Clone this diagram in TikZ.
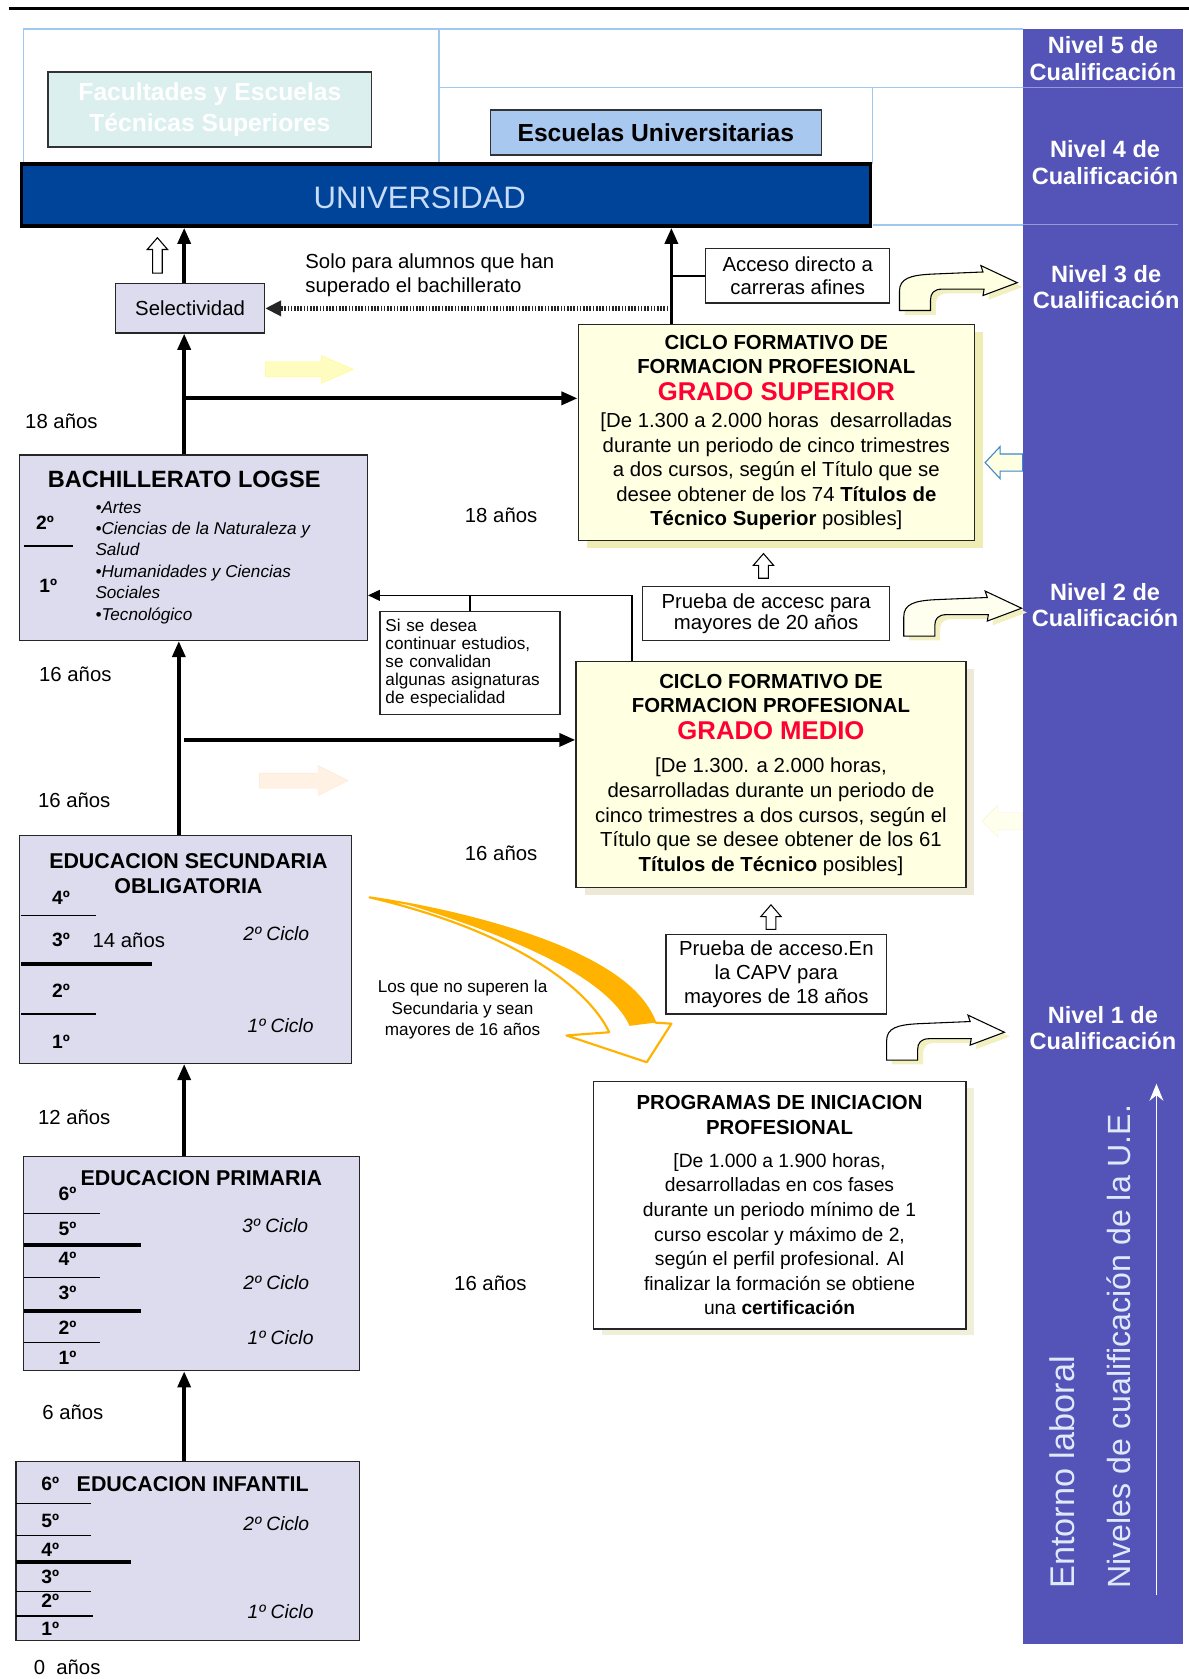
\documentclass[tikz,border=0pt]{standalone}
\usepackage{fontspec}
\setmainfont{Liberation Sans}
\usetikzlibrary{arrows.meta,calc,shadows}

\definecolor{lavfill}{HTML}{DCDCEE}
\definecolor{creamfill}{HTML}{FFFFE1}
\definecolor{gsshadow}{HTML}{EEEEB4}
\definecolor{gmshadow}{HTML}{EEE8D6}
\definecolor{pcshadow}{HTML}{EFEFDA}
\definecolor{univblue}{HTML}{00449A}
\definecolor{univtext}{HTML}{C8DCF8}
\definecolor{facfill}{HTML}{DCEFEF}
\definecolor{escfill}{HTML}{A8C8F0}
\definecolor{framebl}{HTML}{A0C8F0}
\definecolor{nivelpurple}{HTML}{5353B8}
\definecolor{gradored}{HTML}{FF0033}
\definecolor{swoosh}{HTML}{FFB300}
\definecolor{bentshade}{HTML}{F2F0C0}

\newcommand{\setfs}[2]{\fontsize{#1}{#2}\selectfont}
\newcommand{\bentpath}{(0,0) -- (0,-18) .. controls (0,-30) and (10,-33) .. (30,-34) -- (78,-36) -- (76,-42) -- (110,-26) -- (78,-14) -- (79,-20) -- (40,-20) .. controls (32,-20) and (29,-16) .. (29,-10) -- (29,0) -- cycle}
\newcommand{\bentarrow}[3]{%
  \begin{scope}[shift={(#1,#2)}]
    \fill[bentshade, shift={(5,4)}] \bentpath;
    \filldraw[fill=#3, draw=black, line width=1pt] \bentpath;
  \end{scope}}
\newcommand{\hollowup}[3]{%
  \filldraw[fill=white, draw=black, line width=1pt] (#1-4.5,#3) -- (#1-4.5,#2+11) -- (#1-9.5,#2+11) -- (#1,#2) -- (#1+9.5,#2+11) -- (#1+4.5,#2+11) -- (#1+4.5,#3) -- cycle;}

\begin{document}
\begin{tikzpicture}[x=1pt,y=-1pt,
    box/.style={draw=black!85, line width=1.3pt, inner sep=0pt},
    lavbox/.style={box, fill=lavfill},
    fpbox/.style={box, fill=creamfill, align=center, font=\setfs{19}{23},
        drop shadow={shadow xshift=8pt, shadow yshift=-7pt, fill=#1, opacity=1}},
    fpbox/.default=gsshadow,
    notebox/.style={draw=black!85, line width=1.2pt, fill=white, align=center, font=\setfs{19}{21}, inner sep=3pt},
    age/.style={font=\setfs{19}{22}},
    yr/.style={font=\bfseries\setfs{18}{20}},
    ciclo/.style={font=\itshape\setfs{18}{20}},
    ttl/.style={font=\bfseries\setfs{20}{24}, align=center},
    nivel/.style={text=white, font=\bfseries\setfs{22}{25}, align=center},
    mainarrow/.style={line width=3.5pt, -{Triangle[length=15pt,width=12pt]}},
    thinarrow/.style={line width=1.5pt, -{Triangle[length=11pt,width=10pt]}},
    dotarrow/.style={line width=4pt, black!85, dash pattern=on 1.5pt off 1.5pt, -{Triangle[length=15pt,width=14pt]}},
    frameline/.style={draw=framebl, line width=1.2pt},
    yrrule/.style={line width=1.3pt},
    cyclerule/.style={line width=3.5pt}
  ]
\useasboundingbox (0,0) rectangle (1110,1568);
\draw[line width=2pt] (8,8) -- (1110,8);

\fill[nivelpurple] (955,27) rectangle (1105,1535);
\draw[nivelpurple!60!white, line width=0.8pt] (955,82) -- (1105,82);
\draw[nivelpurple!60!white, line width=0.8pt] (955,210) -- (1100,210);
\node[nivel] (niv5) at (1030,55) {Nivel 5 de\\Cualificación};
\node[nivel] (niv4) at (1032,152) {Nivel 4 de\\Cualificación};
\node[nivel] (niv3) at (1033,268) {Nivel 3 de\\Cualificación};
\node[nivel] (niv2) at (1032,565) {Nivel 2 de\\Cualificación};
\node[nivel] (niv1) at (1030,960) {Nivel 1 de\\Cualificación};
\node[rotate=90, anchor=west, text=univtext!60!white, font=\setfs{32}{34}] (entorno) at (992,1487) {Entorno laboral};
\node[rotate=90, anchor=west, text=univtext!60!white, font=\setfs{30}{32}] (niveles) at (1045,1487) {Niveles de cualificación de la U.E.};
\draw[white, line width=1.5pt, -{Stealth[length=16pt,width=13pt]}] (1080,1490) -- (1080,1012);

\draw[frameline] (22,155) -- (22,27) -- (955,27);
\draw[frameline] (410,27) -- (410,155);
\draw[frameline] (410,82) -- (955,82);
\draw[frameline] (815,82) -- (815,153);
\draw[frameline] (815,210) -- (955,210);

\node[draw=black!80, line width=1.5pt, fill=facfill, text=white, font=\bfseries\setfs{23}{29}, align=center, minimum width=302pt, minimum height=70pt] (fac) at (196,102) {Facultades y Escuelas\\Técnicas Superiores};
\node[draw=black!80, line width=1.5pt, fill=escfill, font=\bfseries\setfs{23}{26}, minimum width=309pt, minimum height=42pt] (esc) at (612.5,124) {Escuelas Universitarias};
\node[draw=black, line width=3.5pt, fill=univblue, minimum width=793pt, minimum height=58pt] (univ) at (416.5,182) {};
\node[text=univtext, font=\setfs{29}{32}] (univlbl) at (392,185) {UNIVERSIDAD};

\coordinate (spine) at (172,0);
\coordinate (spineb) at (167,0);
\coordinate (rspine) at (627,0);
\coordinate (gsrow) at (0,372);
\coordinate (gmrow) at (0,691);
\coordinate (convx) at (590,556);

\node[lavbox, font=\setfs{19}{22}, minimum width=139pt, minimum height=46pt] (sel) at (177.5,288) {Selectividad};
\hollowup{147}{222}{255}
\draw[mainarrow] (sel.north -| spine) -- (univ.south -| spine);
\node[anchor=west, align=left, font=\setfs{19}{23}, inner sep=0pt] (solo) at (285,257) {Solo para alumnos que han\\superado el bachillerato};
\draw[dotarrow] (rspine |- sel.east) -- (sel.east);

\node[notebox, minimum width=172pt, minimum height=51pt] (acc) at (745,257.5) {Acceso directo a\\carreras afines};
\bentarrow{840}{290}{creamfill}

\node[fpbox, minimum width=370pt, minimum height=202pt] (cfgs) at (725,404) {{\bfseries CICLO FORMATIVO DE}\\{\bfseries FORMACION PROFESIONAL}\\[2pt]{\color{gradored}\bfseries\setfs{24}{27}GRADO SUPERIOR}\\[2pt]{[}De 1.300 a 2.000 horas\ \ desarrolladas\\durante un periodo de cinco trimestres\\a dos cursos, según el Título que se\\desee obtener de los 74 \textbf{Títulos de}\\\textbf{Técnico Superior} posibles]};
\draw[mainarrow] (cfgs.north -| rspine) -- (univ.south -| rspine);
\draw[line width=1.5pt] (rspine |- acc.west) -- (acc.west);

\filldraw[fill=yellow!25, draw=yellow!45] (248,338) -- (300,338) -- (300,332) -- (330,345) -- (300,358) -- (300,352) -- (248,352) -- cycle;
\filldraw[fill=creamfill, draw=nivelpurple!70!cyan, line width=1pt] (920,432) -- (934,417) -- (934,424) -- (955,424) -- (955,440) -- (934,440) -- (934,447) -- cycle;

\node[lavbox, minimum width=325pt, minimum height=173pt] (bach) at (180.5,511.5) {};
\node[ttl, font=\bfseries\setfs{22}{26}] (bachT) at (172,448) {BACHILLERATO LOGSE};
\node[yr] (bach2) at (42,488) {2º};
\draw[yrrule] (22,510) -- (68,510);
\node[yr] (bach1) at (45,547) {1º};
\node[anchor=north west, align=left, inner sep=0pt, font=\itshape\setfs{16}{20}] (bachL) at (89,468) {•Artes\\•Ciencias de la Naturaleza y\\Salud\\•Humanidades y Ciencias\\Sociales\\•Tecnológico};
\draw[mainarrow] (bach.north -| spine) -- (sel.south -| spine);
\draw[mainarrow] (spine |- gsrow) -- (cfgs.west |- gsrow);
\node[age, anchor=west] (a18) at (20,393) {18 años};
\node[age] (a18m) at (468,481) {18 años};

\node[notebox, minimum width=231pt, minimum height=50pt, font=\setfs{19}{20}] (p20) at (715.5,573) {Prueba de accesc para\\mayores de 20 años};
\hollowup{713}{517}{540}
\bentarrow{844}{594}{creamfill!50!white}

\node[notebox, align=left, text width=158pt, minimum width=168pt, minimum height=96pt, inner sep=5pt, font=\setfs{16}{16.7}] (conv) at (439,619) {Si se desea\\continuar estudios,\\se convalidan\\algunas asignaturas\\de especialidad};

\node[fpbox=gmshadow, minimum width=364pt, minimum height=211pt] (cfgm) at (720,723.5) {{\bfseries CICLO FORMATIVO DE}\\{\bfseries FORMACION PROFESIONAL}\\[2pt]{\color{gradored}\bfseries\setfs{24}{27}GRADO MEDIO}\\[8pt]{[}De 1.300. a 2.000 horas,\\desarrolladas durante un periodo de\\cinco trimestres a dos cursos, según el\\Título que se desee obtener de los 61\\\textbf{Títulos de Técnico} posibles]};
\draw[thinarrow] (cfgm.north -| convx) |- (bach.east |- convx);
\draw[line width=1.5pt] (conv.north) -- (conv.north |- convx);
\node[age, anchor=west] (a16a) at (33,630) {16 años};
\draw[mainarrow] (spineb |- 0,780) -- (bach.south -| spineb);
\draw[mainarrow] (spine |- gmrow) -- (cfgm.west |- gmrow);
\filldraw[fill=orange!10, draw=orange!20] (242,722) -- (297,722) -- (297,715) -- (325,729) -- (297,743) -- (297,736) -- (242,736) -- cycle;
\filldraw[fill=creamfill!60!white, draw=orange!15] (917,767) -- (932,752) -- (932,759) -- (955,759) -- (955,775) -- (932,775) -- (932,782) -- cycle;
\node[age, anchor=west] (a16b) at (32,747) {16 años};
\node[age] (a16m) at (468,797) {16 años};

\node[lavbox, minimum width=310pt, minimum height=213pt] (eso) at (173,886.5) {};
\node[ttl] (esoT) at (176,816) {EDUCACION SECUNDARIA\\OBLIGATORIA};
\foreach \yy/\lbl in {838/4,878/3,925/2,973/1}
  \node[yr] (eso\lbl) at (57,\yy) {\lbl º};
\draw[yrrule] (20,855) -- (90,855);
\draw[cyclerule] (20,900) -- (142,900);
\draw[yrrule] (20,947) -- (90,947);
\node[age, anchor=west] (a14) at (83,878) {14 años};
\node[ciclo] (esoC2) at (258,872) {2º Ciclo};
\node[ciclo] (esoC1) at (262,958) {1º Ciclo};

\node[align=center, font=\setfs{16}{20}] (nosup) at (432,943) {Los que no superen la\\Secundaria y sean\\mayores de 16 años};
\filldraw[fill=white, draw=swoosh, line width=2pt, line join=round] (345,838) .. controls (480,858) and (592,902) .. (612,955) -- (627,956) -- (604,992) -- (529,967) -- (569,964) .. controls (545,915) and (465,866) .. cycle;
\fill[swoosh] (375,843) .. controls (500,864) and (598,905) .. (612,955) -- (588,958) .. controls (568,915) and (490,878) .. cycle;

\node[notebox, minimum width=206pt, minimum height=74pt, font=\setfs{19}{22.5}] (p18) at (725,910) {Prueba de acceso.En\\la CAPV para\\mayores de 18 años};
\hollowup{720}{845}{868}
\bentarrow{828}{990}{white}

\node[box, fill=white, align=center, minimum width=348pt, minimum height=231pt, font=\setfs{18}{23},
    drop shadow={shadow xshift=8pt, shadow yshift=-6pt, fill=pcshadow, opacity=1}] (pcpi) at (728,1125.5) {{\bfseries\setfs{19}{23}PROGRAMAS DE INICIACION}\\{\bfseries\setfs{19}{23}PROFESIONAL}\\[8pt]{[}De 1.000 a 1.900 horas,\\desarrolladas en cos fases\\durante un periodo mínimo de 1\\curso escolar y máximo de 2,\\según el perfil profesional. Al\\finalizar la formación se obtiene\\una \textbf{certificación}};
\node[age] (a16p) at (458,1198) {16 años};

\node[age, anchor=west] (a12) at (32,1043) {12 años};
\node[lavbox, minimum width=314pt, minimum height=200pt] (prim) at (179,1180) {};
\draw[mainarrow] (prim.north -| spine) -- (eso.south -| spine);
\node[ttl] (primT) at (188,1100) {EDUCACION PRIMARIA};
\foreach \yy/\lbl in {1115/6,1148/5,1176/4,1207/3,1240/2,1268/1}
  \node[yr] (prim\lbl) at (63,\yy) {\lbl º};
\draw[yrrule] (22,1133) -- (93,1133);
\draw[cyclerule] (22,1163) -- (132,1163);
\draw[yrrule] (22,1193) -- (93,1193);
\draw[cyclerule] (22,1224) -- (132,1224);
\draw[yrrule] (22,1254) -- (93,1254);
\node[ciclo] (primC3) at (257,1145) {3º Ciclo};
\node[ciclo] (primC2) at (258,1198) {2º Ciclo};
\node[ciclo] (primC1) at (262,1249) {1º Ciclo};

\node[age, anchor=west] (a6) at (36,1319) {6 años};
\node[lavbox, minimum width=321pt, minimum height=167pt] (inf) at (175.5,1448.5) {};
\draw[mainarrow] (inf.north -| spine) -- (prim.south -| spine);
\node[ttl] (infT) at (180,1386) {EDUCACION INFANTIL};
\foreach \yy/\lbl in {1386/6,1420/5,1447/4,1473/3,1495/2,1521/1}
  \node[yr] (inf\lbl) at (47,\yy) {\lbl º};
\draw[yrrule] (15,1404) -- (85,1404);
\draw[yrrule] (15,1434) -- (85,1434);
\draw[cyclerule] (15,1459) -- (122,1459);
\draw[yrrule] (15,1486) -- (85,1486);
\draw[yrrule] (15,1509) -- (87,1509);
\node[ciclo] (infC2) at (258,1423) {2º Ciclo};
\node[ciclo] (infC1) at (262,1505) {1º Ciclo};
\node[age, anchor=west] (a0) at (28,1557) {0\ \ años};
\end{tikzpicture}
\end{document}
